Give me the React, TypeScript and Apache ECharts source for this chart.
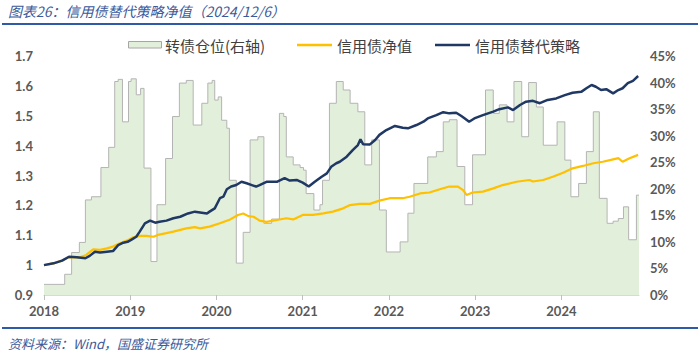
import React, { useEffect, useRef } from "react";
import * as echarts from "echarts";

// 转债仓位(右轴) — step segments: start year, position %
const posYears = [
  2018.0, 2018.24, 2018.32, 2018.41, 2018.48, 2018.55, 2018.66, 2018.75, 2018.82, 2018.86,
  2018.91, 2018.98, 2019.01, 2019.07, 2019.12, 2019.16, 2019.24, 2019.31, 2019.41, 2019.49,
  2019.57, 2019.65, 2019.73, 2019.83, 2019.9, 2019.95, 2019.98, 2020.02, 2020.06, 2020.12,
  2020.15, 2020.23, 2020.31, 2020.39, 2020.48, 2020.55, 2020.64, 2020.73, 2020.78, 2020.81,
  2020.89, 2020.97, 2021.01, 2021.04, 2021.13, 2021.2, 2021.23, 2021.31, 2021.39, 2021.47,
  2021.55, 2021.64, 2021.72, 2021.8, 2021.89, 2021.97, 2022.13, 2022.22, 2022.29, 2022.45,
  2022.55, 2022.63, 2022.7, 2022.79, 2022.88, 2022.97, 2023.12, 2023.21, 2023.28, 2023.37,
  2023.45, 2023.54, 2023.62, 2023.71, 2023.79, 2023.95, 2024.04, 2024.11, 2024.2, 2024.29,
  2024.37, 2024.44, 2024.53, 2024.6, 2024.66, 2024.72, 2024.78, 2024.87, 2024.9,
];
const posValues = [
  2.0, 3.9, 8.0, 9.9, 17.9, 18.5, 24.0, 27.8, 40.2, 40.6,
  32.6, 40.2, 40.7, 37.7, 38.9, 23.9, 6.3, 17.0, 25.7, 33.6,
  39.9, 40.4, 32.0, 36.1, 39.9, 40.4, 36.7, 37.3, 32.9, 31.4,
  21.6, 6.0, 11.8, 29.2, 29.8, 13.5, 14.3, 34.2, 33.6, 26.0,
  24.5, 24.0, 23.5, 19.1, 16.0, 17.0, 21.6, 36.1, 40.2, 38.6,
  36.1, 34.5, 24.5, 29.2, 16.0, 8.1, 10.0, 15.4, 21.0, 26.0,
  27.0, 32.6, 33.0, 24.2, 17.0, 26.4, 38.6, 34.2, 35.8, 32.6,
  40.2, 29.8, 40.0, 35.4, 28.2, 32.6, 25.4, 18.5, 21.0, 27.0,
  34.5, 18.2, 13.5, 13.9, 14.4, 16.6, 10.4, 18.8, 18.8,
];

// 信用债净值
const netYears = [
  2018.0, 2018.11, 2018.21, 2018.29, 2018.42, 2018.49, 2018.57, 2018.65, 2018.73, 2018.8,
  2018.88, 2018.96, 2019.03, 2019.11, 2019.19, 2019.27, 2019.32, 2019.42, 2019.5, 2019.58,
  2019.65, 2019.75, 2019.81, 2019.92, 2020.04, 2020.16, 2020.25, 2020.31, 2020.37, 2020.43,
  2020.5, 2020.58, 2020.7, 2020.81, 2020.89, 2021.0, 2021.12, 2021.24, 2021.35, 2021.47,
  2021.55, 2021.66, 2021.78, 2021.89, 2022.01, 2022.16, 2022.24, 2022.36, 2022.47, 2022.59,
  2022.7, 2022.8, 2022.86, 2022.9, 2022.97, 2023.09, 2023.21, 2023.32, 2023.48, 2023.63,
  2023.67, 2023.79, 2023.9, 2024.02, 2024.13, 2024.25, 2024.37, 2024.48, 2024.6, 2024.66,
  2024.71, 2024.79, 2024.89,
];
const netValues = [
  1.0, 1.006, 1.015, 1.027, 1.026, 1.034, 1.053, 1.051, 1.056, 1.062,
  1.073, 1.082, 1.093, 1.098, 1.098, 1.095, 1.101, 1.107, 1.112, 1.118,
  1.123, 1.127, 1.123, 1.129, 1.14, 1.153, 1.168, 1.173, 1.164, 1.162,
  1.149, 1.145, 1.151, 1.157, 1.153, 1.168, 1.168, 1.173, 1.179, 1.19,
  1.201, 1.205, 1.205, 1.216, 1.224, 1.224, 1.229, 1.24, 1.243, 1.254,
  1.263, 1.263, 1.251, 1.235, 1.243, 1.246, 1.257, 1.268, 1.279, 1.285,
  1.28, 1.285, 1.296, 1.309, 1.324, 1.332, 1.341, 1.346, 1.354, 1.358,
  1.346, 1.358, 1.369,
];

// 信用债替代策略
const stratYears = [
  2018.0, 2018.11, 2018.21, 2018.29, 2018.38, 2018.48, 2018.53, 2018.59, 2018.65, 2018.73,
  2018.8, 2018.86, 2018.92, 2018.97, 2019.02, 2019.07, 2019.11, 2019.17, 2019.23, 2019.29,
  2019.34, 2019.42, 2019.5, 2019.58, 2019.67, 2019.75, 2019.89, 2019.92, 2019.98, 2020.04,
  2020.08, 2020.12, 2020.17, 2020.23, 2020.29, 2020.35, 2020.41, 2020.46, 2020.5, 2020.58,
  2020.7, 2020.79, 2020.85, 2020.93, 2021.0, 2021.07, 2021.14, 2021.22, 2021.28, 2021.33,
  2021.39, 2021.43, 2021.51, 2021.58, 2021.64, 2021.67, 2021.7, 2021.78, 2021.84, 2021.89,
  2021.97, 2022.07, 2022.16, 2022.22, 2022.32, 2022.4, 2022.45, 2022.55, 2022.63, 2022.7,
  2022.78, 2022.84, 2022.88, 2022.93, 2022.99, 2023.09, 2023.21, 2023.28, 2023.38, 2023.44,
  2023.52, 2023.59, 2023.67, 2023.75, 2023.84, 2023.94, 2024.04, 2024.13, 2024.23, 2024.29,
  2024.35, 2024.4, 2024.46, 2024.52, 2024.6, 2024.66, 2024.71, 2024.77, 2024.83, 2024.89,
];
const stratValues = [
  1.0, 1.006, 1.015, 1.028, 1.026, 1.023, 1.031, 1.045, 1.042, 1.045,
  1.047, 1.067, 1.075, 1.078, 1.086, 1.095, 1.112, 1.14, 1.149, 1.142,
  1.145, 1.149, 1.157, 1.162, 1.173, 1.179, 1.173, 1.179, 1.19, 1.224,
  1.229, 1.254, 1.263, 1.268, 1.279, 1.274, 1.268, 1.263, 1.268, 1.279,
  1.279, 1.291, 1.283, 1.285, 1.276, 1.263, 1.279, 1.296, 1.307, 1.329,
  1.341, 1.346, 1.363, 1.385, 1.402, 1.421, 1.405, 1.404, 1.419, 1.436,
  1.452, 1.466, 1.46, 1.458, 1.469, 1.48, 1.491, 1.502, 1.512, 1.508,
  1.51, 1.499, 1.491, 1.48, 1.491, 1.502, 1.514, 1.522, 1.528, 1.519,
  1.536, 1.547, 1.55, 1.542, 1.553, 1.558, 1.569, 1.577, 1.58, 1.592,
  1.603, 1.597, 1.586, 1.589, 1.575, 1.586, 1.592, 1.609, 1.617, 1.633,
];

const xTickYears = [2018, 2019, 2020, 2021, 2022, 2023, 2024];

const TITLE = "图表26：信用债替代策略净值（2024/12/6）";
const SOURCE = "资料来源：Wind，国盛证券研究所";
const LEGEND_POS = "转债仓位(右轴)";
const LEGEND_NET = "信用债净值";
const LEGEND_STRAT = "信用债替代策略";

const zip = (xs: number[], ys: number[]) => xs.map((x, i) => [x, ys[i]]);

export default function App() {
  const ref = useRef<HTMLDivElement>(null);

  useEffect(() => {
    document.body.style.margin = "0";
    if (!ref.current) return;
    const chart = echarts.init(ref.current, null, { renderer: "svg" });
    const labelColor = "#595959";
    const axisFont = "Lato, 'Noto Sans', sans-serif";
    const cjk = "'Noto Sans CJK SC', sans-serif";
    const blue = "#2f5aa8";
    chart.setOption({
      animation: false,
      grid: { left: 44, right: 61, top: 56, bottom: 59 },
      xAxis: {
        type: "value",
        min: 2018,
        max: 2024.9,
        interval: 1,
        axisLine: { show: true, onZero: false, lineStyle: { color: "#d9d9d9", width: 1 } },
        axisTick: {
          show: true,
          length: 5,
          customValues: xTickYears,
          lineStyle: { color: "#bfbfbf" },
        },
        axisLabel: {
          customValues: xTickYears,
          formatter: (v: number) => String(Math.round(v)),
          color: labelColor,
          fontWeight: "bold",
          fontSize: 13,
          fontFamily: axisFont,
          margin: 9,
        },
        splitLine: { show: false },
      },
      yAxis: [
        {
          type: "value",
          min: 0.9,
          max: 1.7,
          interval: 0.1,
          axisLine: { show: false },
          axisTick: { show: false },
          splitLine: { show: false },
          axisLabel: {
            formatter: (v: number) => String(parseFloat(v.toFixed(1))),
            color: labelColor,
            fontWeight: "bold",
            fontSize: 13,
            fontFamily: axisFont,
            margin: 11,
          },
        },
        {
          type: "value",
          position: "right",
          min: 0,
          max: 45,
          interval: 5,
          axisLine: { show: false },
          axisTick: { show: false },
          splitLine: { show: false },
          axisLabel: {
            formatter: "{value}%",
            color: labelColor,
            fontWeight: "bold",
            fontSize: 13,
            fontFamily: axisFont,
            margin: 11,
          },
        },
      ],
      series: [
        {
          name: LEGEND_POS,
          type: "line",
          yAxisIndex: 1,
          step: "end",
          showSymbol: false,
          data: zip(posYears, posValues),
          lineStyle: { color: "#b4b4b4", width: 1 },
          areaStyle: { color: "#e2efda", opacity: 1 },
          z: 1,
        },
        {
          name: LEGEND_NET,
          type: "line",
          showSymbol: false,
          data: zip(netYears, netValues),
          lineStyle: { color: "#ffc000", width: 2.2 },
          z: 3,
        },
        {
          name: LEGEND_STRAT,
          type: "line",
          showSymbol: false,
          data: zip(stratYears, stratValues),
          lineStyle: { color: "#1f3864", width: 2.5 },
          z: 4,
        },
      ],
      graphic: [
        {
          type: "text",
          x: 8,
          y: 11,
          style: {
            text: TITLE,
            fill: "#3b5a9a",
            font: `italic 14px ${cjk}`,
            verticalAlign: "middle",
          },
        },
        {
          type: "line",
          shape: { x1: 2, y1: 24, x2: 698, y2: 24 },
          style: { stroke: blue, lineWidth: 2 },
        },
        {
          type: "rect",
          shape: { x: 128.5, y: 41.5, width: 33, height: 6.5 },
          style: { fill: "#e2efda", stroke: "#a6a6a6", lineWidth: 1 },
        },
        {
          type: "text",
          x: 165,
          y: 45,
          style: { text: LEGEND_POS, fill: "#404040", font: `15px ${cjk}`, verticalAlign: "middle" },
        },
        {
          type: "line",
          shape: { x1: 297, y1: 45, x2: 332, y2: 45 },
          style: { stroke: "#ffc000", lineWidth: 2.5 },
        },
        {
          type: "text",
          x: 337,
          y: 45,
          style: { text: LEGEND_NET, fill: "#404040", font: `15px ${cjk}`, verticalAlign: "middle" },
        },
        {
          type: "line",
          shape: { x1: 435, y1: 45, x2: 470, y2: 45 },
          style: { stroke: "#1f3864", lineWidth: 2.5 },
        },
        {
          type: "text",
          x: 475,
          y: 45,
          style: { text: LEGEND_STRAT, fill: "#404040", font: `15px ${cjk}`, verticalAlign: "middle" },
        },
        {
          type: "line",
          shape: { x1: 2, y1: 328, x2: 698, y2: 328 },
          style: { stroke: blue, lineWidth: 2 },
        },
        {
          type: "text",
          x: 8,
          y: 343,
          style: {
            text: SOURCE,
            fill: "#3b5a9a",
            font: `italic 13px ${cjk}`,
            verticalAlign: "middle",
          },
        },
      ],
    });
    return () => chart.dispose();
  }, []);

  return (
    <div
      ref={ref}
      style={{ position: "absolute", left: 0, top: 0, width: 700, height: 354, background: "#fff" }}
    />
  );
}
